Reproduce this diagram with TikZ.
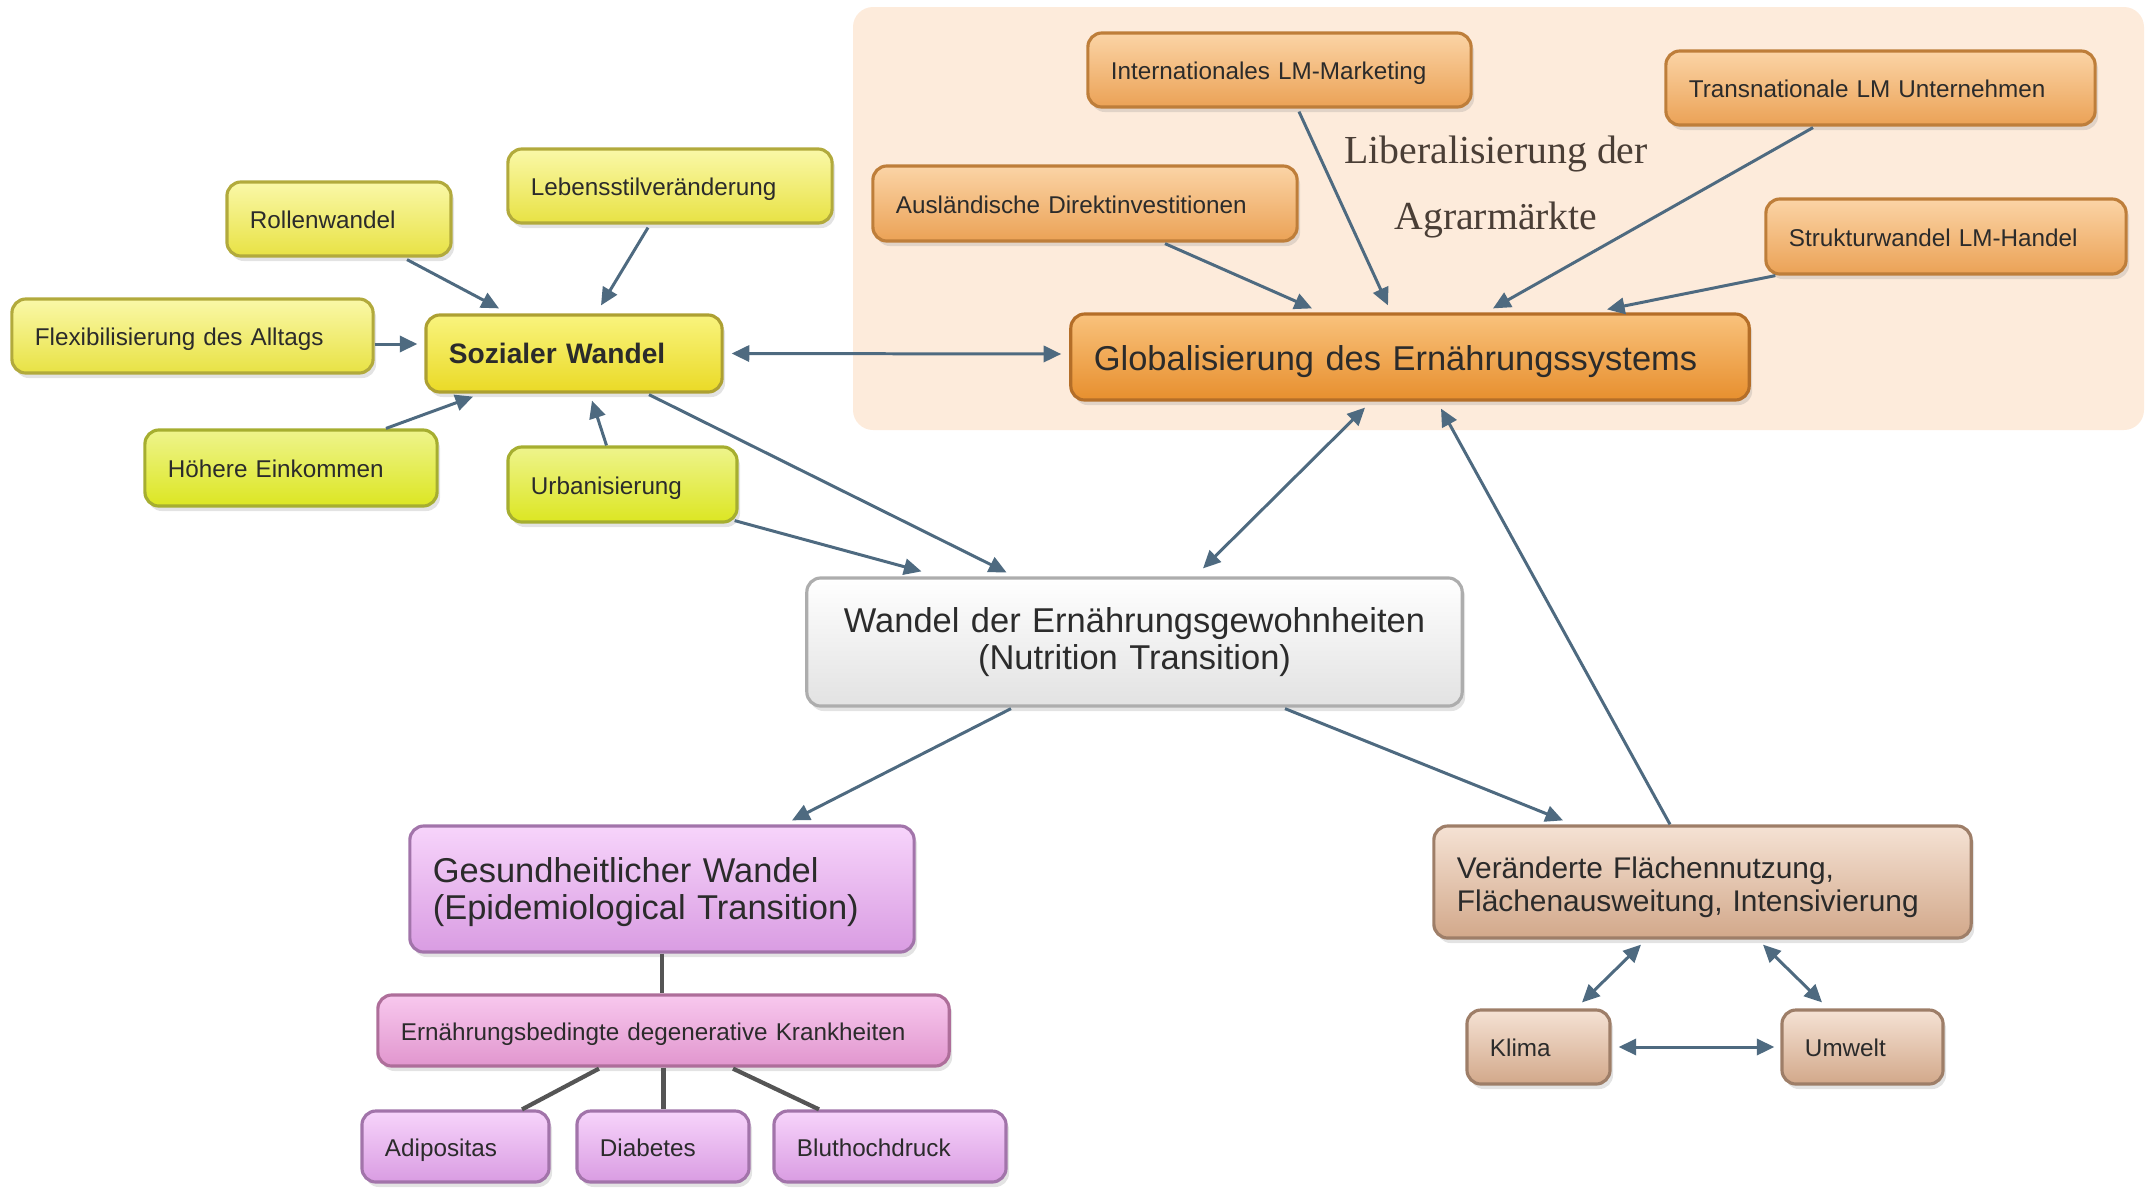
\documentclass[tikz,border=0pt]{standalone}
\usepackage{fontspec}
\setmainfont{Liberation Sans}
\newfontfamily\libserif{Liberation Serif}
\usetikzlibrary{shadows,arrows.meta,calc}

\definecolor{arr}{HTML}{4E6A80}
\definecolor{treegray}{HTML}{555555}
\definecolor{peach}{HTML}{FDEBDB}
\definecolor{yla}{HTML}{FAF8A8}
\definecolor{ylb}{HTML}{E8E244}
\definecolor{ylc}{HTML}{B2AA3C}
\definecolor{lma}{HTML}{EEF48C}
\definecolor{lmb}{HTML}{DCE622}
\definecolor{lmc}{HTML}{A6AE30}
\definecolor{sza}{HTML}{F9F47E}
\definecolor{szb}{HTML}{EADA26}
\definecolor{szc}{HTML}{ADA032}
\definecolor{ora}{HTML}{FBD4A6}
\definecolor{orb}{HTML}{EBA256}
\definecolor{orc}{HTML}{BE7E3A}
\definecolor{gla}{HTML}{F9C27C}
\definecolor{glb}{HTML}{E78F2E}
\definecolor{glc}{HTML}{B46E28}
\definecolor{pua}{HTML}{F7D4FB}
\definecolor{pub}{HTML}{D99CE2}
\definecolor{puc}{HTML}{A274AA}
\definecolor{pka}{HTML}{F8C8EE}
\definecolor{pkb}{HTML}{E196CE}
\definecolor{pkc}{HTML}{AE6E9A}
\definecolor{tna}{HTML}{F5E2D4}
\definecolor{tnb}{HTML}{D2A88A}
\definecolor{tnc}{HTML}{9E7E68}
\definecolor{wha}{HTML}{FFFFFF}
\definecolor{whb}{HTML}{E2E2E2}
\definecolor{whc}{HTML}{ADADAD}
\definecolor{libtext}{HTML}{4A3E36}
\definecolor{txt}{HTML}{2B2B2B}

\begin{document}
\begin{tikzpicture}[x=0.01cm,y=-0.01cm,
  nd/.style={draw, rounded corners=0.14cm, line width=0.9pt, inner xsep=0.23cm,
    inner ysep=0pt, align=left, text=txt,
    drop shadow={shadow xshift=0.03cm, shadow yshift=-0.05cm, opacity=0.22}},
  sz/.style 2 args={text width=#1cm, minimum height=#2cm},
  small/.style={font=\fontsize{6.9}{8}\selectfont, text height=7.2pt, text depth=1.6pt},
  big/.style={font=\fontsize{9.8}{10.6}\selectfont},
  yel/.style={top color=yla, bottom color=ylb, draw=ylc},
  lim/.style={top color=lma, bottom color=lmb, draw=lmc},
  soz/.style={top color=sza, bottom color=szb, draw=szc},
  ora/.style={top color=ora, bottom color=orb, draw=orc},
  glo/.style={top color=gla, bottom color=glb, draw=glc},
  pur/.style={top color=pua, bottom color=pub, draw=puc},
  pnk/.style={top color=pka, bottom color=pkb, draw=pkc},
  tan/.style={top color=tna, bottom color=tnb, draw=tnc},
  wht/.style={top color=wha, bottom color=whb, draw=whc},
  conn/.style={draw=arr, line width=0.85pt, -{Triangle[length=5pt,width=4.6pt]}},
  biconn/.style={draw=arr, line width=0.85pt, {Triangle[length=5pt,width=4.6pt]}-{Triangle[length=5pt,width=4.6pt]}},
  tree/.style={draw=treegray, line width=1.2pt}]

\useasboundingbox (0,0) rectangle (2148,1187);

% background region
\fill[peach, rounded corners=0.2cm] (853,7) rectangle (2144,430);

% yellow group
\node[nd, yel, small, sz={1.78}{0.74}] (rollen) at (339,219) {Rollenwandel};
\node[nd, yel, small, sz={2.78}{0.74}] (lebens) at (670,186) {Lebensstilveränderung};
\node[nd, yel, small, sz={3.15}{0.74}] (flex) at (192.5,336) {Flexibilisierung des Alltags};
\node[nd, soz, sz={2.50}{0.77}, font=\fontsize{8}{9}\selectfont\bfseries, text height=7.4pt, text depth=1.8pt] (sozial) at (574,353.5) {Sozialer Wandel};
\node[nd, lim, small, sz={2.46}{0.76}] (hoehere) at (291,468) {Höhere Einkommen};
\node[nd, lim, small, sz={1.83}{0.75}] (urban) at (622.5,484.5) {Urbanisierung};

% orange group
\node[nd, ora, small, sz={3.37}{0.74}] (intl) at (1279.5,70) {Internationales LM-Marketing};
\node[nd, ora, small, sz={3.83}{0.74}] (trans) at (1880.5,88) {Transnationale LM Unternehmen};
\node[nd, ora, small, sz={3.78}{0.75}] (ausl) at (1085,203.5) {Ausländische Direktinvestitionen};
\node[nd, ora, small, sz={3.14}{0.75}] (struk) at (1946,236.5) {Strukturwandel LM-Handel};
\node[nd, glo, big, sz={6.32}{0.86}, text height=9.8pt, text depth=2pt] (glob) at (1410,357) {Globalisierung des Ernährungssystems};
\node[libtext, align=center, font=\libserif\fontsize{11.3}{19}\selectfont] (lib) at (1496,187) {Liberalisierung der\\Agrarmärkte};

% center
\node[nd, wht, big, sz={6.09}{1.28}, align=center] (wandel) at (1134.5,642) {Wandel der Ernährungsgewohnheiten\\(Nutrition Transition)};

% purple group
\node[nd, pur, big, sz={4.58}{1.26}] (gesund) at (662,889) {\rule{0pt}{8.8pt}Gesundheitlicher Wandel\\(Epidemiological Transition)};
\node[nd, pnk, small, sz={5.25}{0.71}] (ernb) at (663.5,1030.5) {Ernährungsbedingte degenerative Krankheiten};
\node[nd, pur, small, sz={1.41}{0.71}] (adip) at (455.5,1146.5) {Adipositas};
\node[nd, pur, small, sz={1.26}{0.71}] (diab) at (663,1146.5) {Diabetes};
\node[nd, pur, small, sz={1.86}{0.71}] (bluth) at (890,1146.5) {Bluthochdruck};

% tan group
\node[nd, tan, sz={4.91}{1.12}, font=\fontsize{8.5}{9.5}\selectfont] (veraend) at (1702.5,882) {\rule{0pt}{9.3pt}Veränderte Flächennutzung,\\Flächenausweitung, Intensivierung};
\node[nd, tan, small, sz={0.97}{0.74}] (klima) at (1538.5,1047) {Klima};
\node[nd, tan, small, sz={1.15}{0.74}] (umwelt) at (1862.5,1047) {Umwelt};

% connectors to Sozialer Wandel
\draw[conn] ($(rollen.south)+(68,2)$) -- ($(sozial.north)+(-75,-5)$);
\draw[conn] ($(lebens.south)+(-22,3)$) -- ($(sozial.north)+(27,-8)$);
\draw[conn] ($(flex.east)+(0,8)$) -- ($(sozial.west)+(-7,-9.5)$);
\draw[conn] ($(hoehere.north)+(95,0)$) -- ($(sozial.south)+(-101,3)$);
\draw[conn] ($(urban.north)+(-16,0)$) -- ($(sozial.south)+(18,7)$);

% Sozial <-> Globalisierung
\draw[biconn] ($(sozial.east)+(8,0)$) -- ($(glob.west)+(-8,-3)$);

% into Wandel
\draw[conn] ($(sozial.south)+(75,1)$) -- ($(wandel.north)+(-128,-4)$);
\draw[conn] ($(urban.south east)+(-4,-3)$) -- ($(wandel.north)+(-213,-5)$);
\draw[biconn] ($(wandel.north)+(68.5,-8)$) -- ($(glob.south)+(-45,6)$);

% out of Wandel
\draw[conn] ($(wandel.south)+(-123.5,1)$) -- ($(gesund.north)+(130,-4)$);
\draw[conn] ($(wandel.south)+(150.5,1)$) -- ($(veraend.north)+(-139.5,-4)$);
\draw[conn] ($(veraend.north)+(-32.5,0)$) -- ($(glob.south)+(31,7)$);

% into Globalisierung
\draw[conn] ($(intl.south)+(19.5,3)$) -- ($(glob.north)+(-22,-7)$);
\draw[conn] ($(ausl.south)+(80,1)$) -- ($(glob.north)+(-98,-4)$);
\draw[conn] ($(trans.south)+(-67.5,1)$) -- ($(glob.north)+(83,-4)$);
\draw[conn] ($(struk.south west)+(11,0)$) -- ($(glob.north)+(197,-3)$);

% tree lines
\draw[tree, line width=0.9pt] (gesund.south) -- (gesund.south |- ernb.north);
\draw[tree] ($(ernb.south)+(-64.5,1)$) -- ($(adip.north)+(66.5,0)$);
\draw[tree] (ernb.south) -- (ernb.south |- diab.north);
\draw[tree] ($(ernb.south)+(69.5,1)$) -- ($(bluth.north)+(-71,0)$);

% tan triangle
\draw[biconn] ($(veraend.south)+(-61.5,5)$) -- ($(klima.north)+(43.5,-6)$);
\draw[biconn] ($(veraend.south)+(60.5,5)$) -- ($(umwelt.north)+(-40.5,-6)$);
\draw[biconn] ($(klima.east)+(7,0)$) -- ($(umwelt.west)+(-6,0)$);
\end{tikzpicture}
\end{document}
